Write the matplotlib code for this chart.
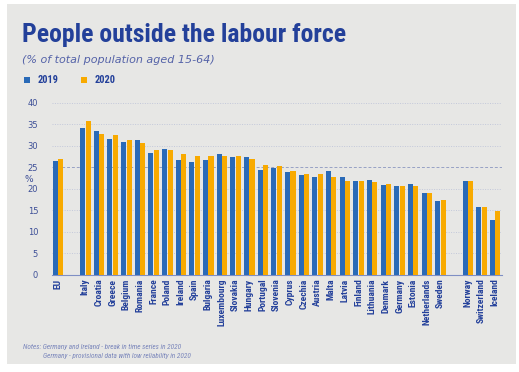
import numpy as np
import matplotlib
matplotlib.use('Agg')
import matplotlib.pyplot as plt
from matplotlib.patches import Rectangle
from matplotlib import font_manager

# data
countries = ['EU', 'Italy', 'Croatia', 'Greece', 'Belgium', 'Romania', 'France', 'Poland',
             'Ireland', 'Spain', 'Bulgaria', 'Luxembourg', 'Slovakia', 'Hungary', 'Portugal',
             'Slovenia', 'Cyprus', 'Czechia', 'Austria', 'Malta', 'Latvia', 'Finland',
             'Lithuania', 'Denmark', 'Germany', 'Estonia', 'Netherlands', 'Sweden',
             'Norway', 'Switzerland', 'Iceland']
vals_2019 = [26.5, 34.1, 33.4, 31.6, 30.9, 31.3, 28.3, 29.3, 26.7, 26.1, 26.7, 28.0, 27.3,
             27.4, 24.4, 24.8, 23.9, 23.2, 22.8, 24.1, 22.6, 21.7, 22.0, 20.8, 20.7, 21.0,
             19.0, 17.1, 21.7, 15.8, 12.7]
vals_2020 = [27.0, 35.8, 32.8, 32.5, 31.3, 30.7, 28.9, 28.9, 28.1, 27.6, 27.6, 27.6, 27.5,
             27.0, 25.6, 25.3, 24.2, 23.5, 23.3, 22.7, 21.7, 21.7, 21.5, 21.0, 20.7, 20.5,
             19.0, 17.4, 21.7, 15.8, 14.9]
yticks = [0, 5, 10, 15, 20, 25, 30, 35, 40]

# positions: EU, gap, EU members, gap, EFTA
pos = np.array([0] + list(range(2, 29)) + [30, 31, 32])

BLUE = '#2a6ab7'
ORANGE = '#f8aa00'
NAVY = '#23409a'
TXT = '#3d4f97'
BG = '#e7e7e5'

# narrow font if there is one
names = set(f.name for f in font_manager.fontManager.ttflist)
narrow = None
for n in ['Liberation Sans Narrow', 'DejaVu Sans Condensed', 'Roboto Condensed', 'Open Sans Condensed']:
    if n in names:
        narrow = n
        break
if narrow is None:
    narrow = 'Roboto'
    title_size = 16
    lab_size = 6.0
else:
    title_size = 18.5
    lab_size = 6.8

fig = plt.figure(figsize=(5.19, 3.72), dpi=100)
fig.patch.set_facecolor('white')
fig.patches.append(Rectangle((7 / 519, 8 / 372), 509 / 519, 360 / 372,
                             transform=fig.transFigure, facecolor=BG, edgecolor='none', zorder=-5))

ax = fig.add_axes([52 / 519, 97.5 / 372, 450 / 519, 171.8 / 372])
ax.set_facecolor('none')

w = 0.37
ax.bar(pos - 0.2, vals_2019, width=w, color=BLUE, zorder=3)
ax.bar(pos + 0.2, vals_2020, width=w, color=ORANGE, zorder=3)

ax.set_xlim(-0.44, 32.5)
ax.set_ylim(0, 40)
ax.set_yticks(yticks)
ax.set_yticklabels([str(t) for t in yticks], fontsize=6, color=TXT)
for t in yticks[1:]:
    if t == 25:
        ax.axhline(t, color='#97a1c4', lw=0.7, ls=(0, (3, 2)), zorder=1)
    else:
        ax.axhline(t, color='#c3c8da', lw=0.7, ls=(0, (1, 1.5)), zorder=1)

ax.set_xticks(pos)
ax.set_xticklabels(countries, rotation=90, fontsize=lab_size, fontweight='bold', color=NAVY,
                   family=narrow)
ax.tick_params(axis='x', length=0, pad=3)
ax.tick_params(axis='y', length=0, pad=10)
for s in ['top', 'right', 'left']:
    ax.spines[s].set_visible(False)
ax.spines['bottom'].set_color('#7f8fc4')
ax.spines['bottom'].set_linewidth(0.8)

fig.text(29 / 519, 1 - 179 / 372, '%', fontsize=6.5, color=TXT, ha='center', va='center')

# title and subtitle
fig.text(22 / 519, 1 - 42 / 372, 'People outside the labour force', fontsize=title_size,
         fontweight='bold', color=NAVY, family=narrow, va='baseline')
fig.text(22 / 519, 1 - 63 / 372, '(% of total population aged 15-64)', fontsize=8,
         style='italic', color='#5563a8', va='baseline')

# legend
fig.patches.append(Rectangle((24 / 519, 1 - 83 / 372), 6 / 519, 6 / 372,
                             transform=fig.transFigure, facecolor=BLUE, edgecolor='none'))
fig.text(38 / 519, 1 - 80 / 372, '2019', fontsize=7.5, fontweight='bold', color=NAVY,
         va='center', family=narrow)
fig.patches.append(Rectangle((81 / 519, 1 - 83 / 372), 6 / 519, 6 / 372,
                             transform=fig.transFigure, facecolor=ORANGE, edgecolor='none'))
fig.text(95 / 519, 1 - 80 / 372, '2020', fontsize=7.5, fontweight='bold', color=NAVY,
         va='center', family=narrow)

# notes
fig.text(23 / 519, 1 - 349 / 372, 'Notes: Germany and Ireland - break in time series in 2020',
         fontsize=5.2, style='italic', color='#7a86bb', family=narrow)
fig.text(43 / 519, 1 - 358 / 372, 'Germany - provisional data with low reliability in 2020',
         fontsize=5.2, style='italic', color='#7a86bb', family=narrow)

fig.savefig('out.png', dpi=100, facecolor=fig.get_facecolor())
